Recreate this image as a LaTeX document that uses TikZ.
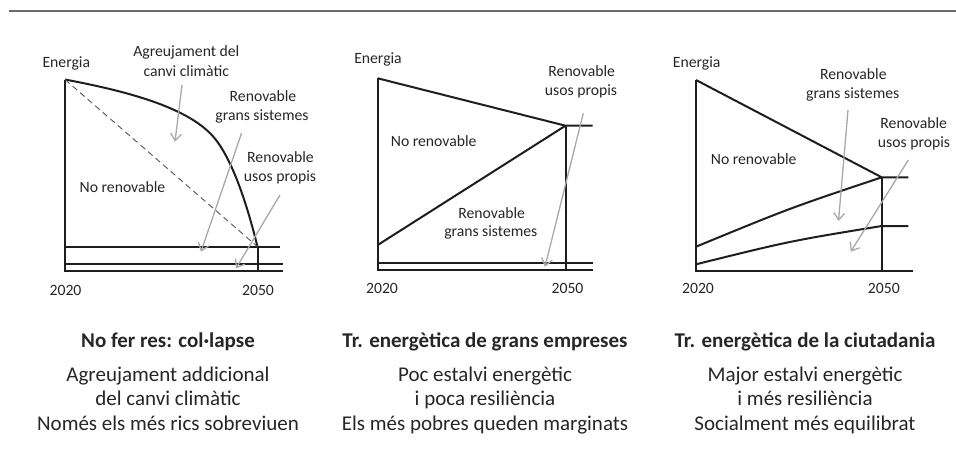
\documentclass[tikz,border=0pt]{standalone}
\usepackage{fontspec}
\setmainfont{Carlito}
\usetikzlibrary{arrows.meta}
\definecolor{ink}{HTML}{1E1E1E}
\definecolor{txt}{HTML}{262626}
\definecolor{arr}{HTML}{A8A8A8}
\definecolor{rulec}{HTML}{6B6B6B}
\definecolor{dashc}{HTML}{555555}
\begin{document}
\begin{tikzpicture}[x=1pt,y=-1pt,
  lbl/.style={anchor=base, inner sep=0pt, text=txt, font=\fontsize{15.7}{18}\selectfont},
  captext/.style={anchor=base, inner sep=0pt, text=txt, font=\fontsize{21}{24}\selectfont},
  captitle/.style={anchor=base, inner sep=0pt, text=txt, font=\fontsize{21}{24}\selectfont\bfseries},
  axis/.style={draw=ink, line width=2pt},
  pointer/.style={draw=arr, line width=1.3pt, -{Straight Barb[length=7pt,width=11pt,line width=1.3pt]}},
  dashline/.style={draw=dashc, line width=0.9pt, dash pattern=on 6pt off 4pt},
  toprule/.style={draw=rulec, line width=2pt}
]
\useasboundingbox (0,0) rectangle (956,455);

% top rule
\coordinate (r0) at (9,11);
\coordinate (r1) at (956,11);
\draw[toprule] (r0) -- (r1);

% ================= Panel 1 =================
\coordinate (p1top) at (65,79.5);
\coordinate (p1o) at (65,270.7);
\coordinate (p1r) at (283,270.7);
\coordinate (p1mid) at (213.3,136.7);
\coordinate (p1end) at (257.5,246.7);
\coordinate (p1vb) at (257.5,270.7);
\draw[axis] (p1top) -- (p1o) -- (p1r);
\draw[axis] (65,246.7) -- (280,246.7);
\draw[axis] (65,264.3) -- (283,264.3);
\draw[axis] (p1end) -- (p1vb);
\draw[axis] (p1top) .. controls (125,90.9) and (187,106.6) .. (p1mid)
                    .. controls (233,159.3) and (247.9,207.9) .. (p1end);
\draw[dashline] (p1top) -- (p1end);

\node[lbl] (e1) at (66.3,67.7) {Energia};
\node[lbl] (ag1) at (186.3,56.5) {Agreujament del};
\node[lbl] (ag2) at (186.3,76.5) {canvi climàtic};
\node[lbl] (g1a) at (263,101.7) {Renovable};
\node[lbl] (g1b) at (262,120) {grans sistemes};
\node[lbl] (u1a) at (280.5,162.7) {Renovable};
\node[lbl] (u1b) at (280,181) {usos propis};
\node[lbl] (n1) at (122.5,192) {No renovable};
\node[lbl] (y1a) at (65.5,295.7) {2020};
\node[lbl] (y1b) at (258,295.7) {2050};

\coordinate (a1s) at (182,85);
\coordinate (a1e) at (175,141.7);
\coordinate (a2s) at (241.5,133.3);
\coordinate (a2e) at (201,251.7);
\coordinate (a3s) at (280,195);
\coordinate (a3e) at (236,268.3);
\draw[pointer] (a1s) -- (a1e);
\draw[pointer] (a2s) -- (a2e);
\draw[pointer] (a3s) -- (a3e);

% ================= Panel 2 =================
\coordinate (p2top) at (377.7,78.3);
\coordinate (p2o) at (377.7,270);
\coordinate (p2r) at (593,270);
\coordinate (p2j) at (565.5,125.7);
\coordinate (p2jr) at (592.7,125.7);
\coordinate (p2low) at (377.7,245);
\coordinate (p2vb) at (565.5,270);
\draw[axis] (p2top) -- (p2o) -- (p2r);
\draw[axis] (p2top) -- (p2j) -- (p2jr);
\draw[axis] (p2low) -- (p2j);
\draw[axis] (p2j) -- (p2vb);
\draw[axis] (377.7,262.7) -- (593,262.7);

\node[lbl] (e2) at (378,63.3) {Energia};
\node[lbl] (u2a) at (581.7,76.7) {Renovable};
\node[lbl] (u2b) at (581,95) {usos propis};
\node[lbl] (n2) at (433.7,146.7) {No renovable};
\node[lbl] (g2a) at (491.7,218.3) {Renovable};
\node[lbl] (g2b) at (490.8,236.7) {grans sistemes};
\node[lbl] (y2a) at (382,293.3) {2020};
\node[lbl] (y2b) at (567.5,293.3) {2050};

\coordinate (b1s) at (583.3,113.3);
\coordinate (b1e) at (545,266.7);
\draw[pointer] (b1s) -- (b1e);

% ================= Panel 3 =================
\coordinate (p3top) at (696,80);
\coordinate (p3o) at (696,270.7);
\coordinate (p3r) at (913,270.7);
\coordinate (p3j) at (881.7,177.3);
\coordinate (p3jr) at (908.3,177.3);
\coordinate (p3a) at (696,246.7);
\coordinate (p3b) at (696,264.3);
\coordinate (p3k) at (881.7,226);
\coordinate (p3kr) at (908.3,226);
\coordinate (p3vb) at (881.7,270.7);
\draw[axis] (p3top) -- (p3o) -- (p3r);
\draw[axis] (p3top) -- (p3j) -- (p3jr);
\draw[axis] (p3a) .. controls (790,208) .. (p3j);
\draw[axis] (p3b) .. controls (790,241) .. (p3k) -- (p3kr);
\draw[axis] (p3j) -- (p3vb);

\node[lbl] (e3) at (696.7,67.3) {Energia};
\node[lbl] (g3a) at (853.3,79.3) {Renovable};
\node[lbl] (g3b) at (852.7,98.3) {grans sistemes};
\node[lbl] (n3) at (753.7,164) {No renovable};
\node[lbl] (u3a) at (913.7,128.3) {Renovable};
\node[lbl] (u3b) at (914,147.3) {usos propis};
\node[lbl] (y3a) at (698,293.3) {2020};
\node[lbl] (y3b) at (883.8,293.3) {2050};

\coordinate (c1s) at (848,110);
\coordinate (c1e) at (838.5,221);
\coordinate (c2s) at (908.3,160);
\coordinate (c2e) at (850.7,251.7);
\draw[pointer] (c1s) -- (c1e);
\draw[pointer] (c2s) -- (c2e);

% ================= Captions =================
\node[captitle] (t1) at (168,347.7) {No fer res: col·lapse};
\node[captext] (t1a) at (168,381.7) {Agreujament addicional};
\node[captext] (t1b) at (168,405.7) {del canvi climàtic};
\node[captext] (t1c) at (168,430.5) {Només els més rics sobreviuen};

\node[captitle] (t2) at (485,347.7) {Tr. energètica de grans empreses};
\node[captext] (t2a) at (485,381.7) {Poc estalvi energètic};
\node[captext] (t2b) at (485,405.7) {i poca resiliència};
\node[captext] (t2c) at (485,430.5) {Els més pobres queden marginats};

\node[captitle] (t3) at (805,347.7) {Tr. energètica de la ciutadania};
\node[captext] (t3a) at (805,381.7) {Major estalvi energètic};
\node[captext] (t3b) at (805,405.7) {i més resiliència};
\node[captext] (t3c) at (805,430.5) {Socialment més equilibrat};
\end{tikzpicture}
\end{document}
